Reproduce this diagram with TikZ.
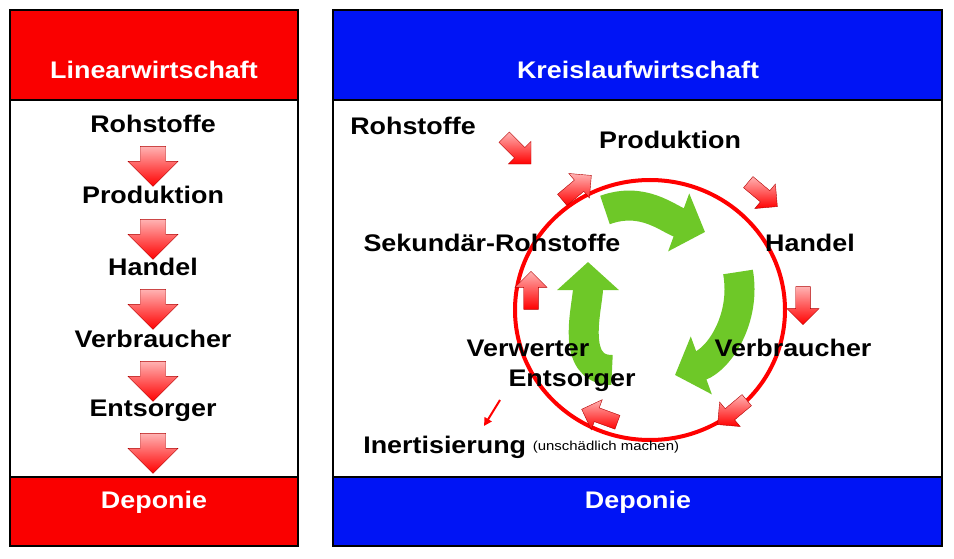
\documentclass[tikz,border=0pt]{standalone}
\usepackage{fontspec}
\setmainfont{Liberation Sans}
\usetikzlibrary{shapes.arrows,arrows.meta}
\definecolor{hdred}{RGB}{250,0,0}
\definecolor{hdblue}{RGB}{0,20,245}
\definecolor{recgreen}{RGB}{110,200,40}
\begin{document}
\begin{tikzpicture}[x=1pt,y=-1pt]
  \tikzset{
    lbl/.style={font=\bfseries\fontsize{24}{26}\selectfont, inner sep=1pt, xscale=1.12, transform shape},
    hlbl/.style={lbl, text=white},
    redarrow/.style={single arrow, draw=red!70!black, thin, top color=red!30, bottom color=red,
      minimum height=40pt, minimum width=50pt, single arrow head extend=6pt, inner sep=6pt},
    smallarrow/.style={redarrow, minimum height=38pt, minimum width=32pt, single arrow head extend=5pt, inner sep=4pt},
    greenarrow/.style={line width=30pt, draw=recgreen, -{Triangle[length=28pt,width=60pt]}},
    panel/.style={draw=black, line width=2.5pt}
  }
  \useasboundingbox (0,0) rectangle (954,559);
  %% linear economy
  \fill[white] (10,100) rectangle (298,477);
  \fill[hdred] (10,10) rectangle (298,100);
  \fill[hdred] (10,477) rectangle (298,546);
  \draw[panel] (10,10) rectangle (298,546);
  \draw[panel] (10,100) -- (298,100) (10,477) -- (298,477);
  \node[hlbl] (linhead) at (154,70) {Linearwirtschaft};
  \node[hlbl] (lindep) at (154,502) {Deponie};
  \node[lbl] (lroh) at (153,124) {Rohstoffe};
  \node[redarrow, rotate=-90] (la1) at (153,160) {};
  \node[lbl] (lprod) at (153,195) {Produktion};
  \node[redarrow, rotate=-90] (la2) at (153,233) {};
  \node[lbl] (lhan) at (153,267) {Handel};
  \node[redarrow, rotate=-90] (la3) at (153,303) {};
  \node[lbl] (lver) at (153,339) {Verbraucher};
  \node[redarrow, rotate=-90] (la4) at (153,375) {};
  \node[lbl] (lent) at (153,411) {Entsorger};
  \node[redarrow, rotate=-90] (la5) at (153,447) {};
  %% circular economy
  \fill[white] (333,100) rectangle (942,477);
  \fill[hdblue] (333,10) rectangle (942,100);
  \fill[hdblue] (333,477) rectangle (942,546);
  \draw[panel] (333,10) rectangle (942,546);
  \draw[panel] (333,100) -- (942,100) (333,477) -- (942,477);
  \node[hlbl] (krhead) at (638,70) {Kreislaufwirtschaft};
  \node[hlbl] (krdep) at (638,502) {Deponie};
  % recycling symbol
  \draw[greenarrow] (605,210) to[out=20,in=160] (705,232);
  \draw[greenarrow] (738,272) to[out=-80,in=20] (675,375);
  \draw[greenarrow] (612,370) to[out=180,in=-90] (588,262);
  % ring
  \draw[red, line width=4pt] (650,310) ellipse (135pt and 130pt);
  \node[smallarrow, rotate=-45] (ra0) at (515,148) {};
  \node[smallarrow, rotate=40] (ra1) at (574,190) {};
  \node[smallarrow, rotate=-40] (ra2) at (760,192) {};
  \node[smallarrow, rotate=-90] (ra3) at (803,302) {};
  \node[smallarrow, rotate=-140] (ra4) at (735,410) {};
  \node[smallarrow, rotate=160] (ra5) at (603,417) {};
  \node[smallarrow, rotate=90] (ra6) at (531,294) {};
  \node[lbl] (rroh) at (413,126) {Rohstoffe};
  \node[lbl] (rprod) at (670,140) {Produktion};
  \node[lbl] (rhan) at (810,243) {Handel};
  \node[lbl] (rsek) at (492,243) {Sekundär-Rohstoffe};
  \node[lbl] (rver) at (793,348) {Verbraucher};
  \node[lbl] (rwer) at (528,348) {Verwerter};
  \node[lbl] (rent) at (572,381) {Entsorger};
  \node[lbl, anchor=west] (rine) at (362,447) {Inertisierung};
  \node[anchor=base west, font=\fontsize{13}{14}\selectfont, inner sep=1pt, xscale=1.15, transform shape] (rmach) at ([xshift=4pt,yshift=3pt]rine.base east) {(unschädlich machen)};
  \coordinate (tstart) at (500,400);
  \coordinate (tend) at (484,426);
  \draw[red, line width=2pt, -{Triangle[length=8pt,width=8pt]}] (tstart) -- (tend);
\end{tikzpicture}
\end{document}
